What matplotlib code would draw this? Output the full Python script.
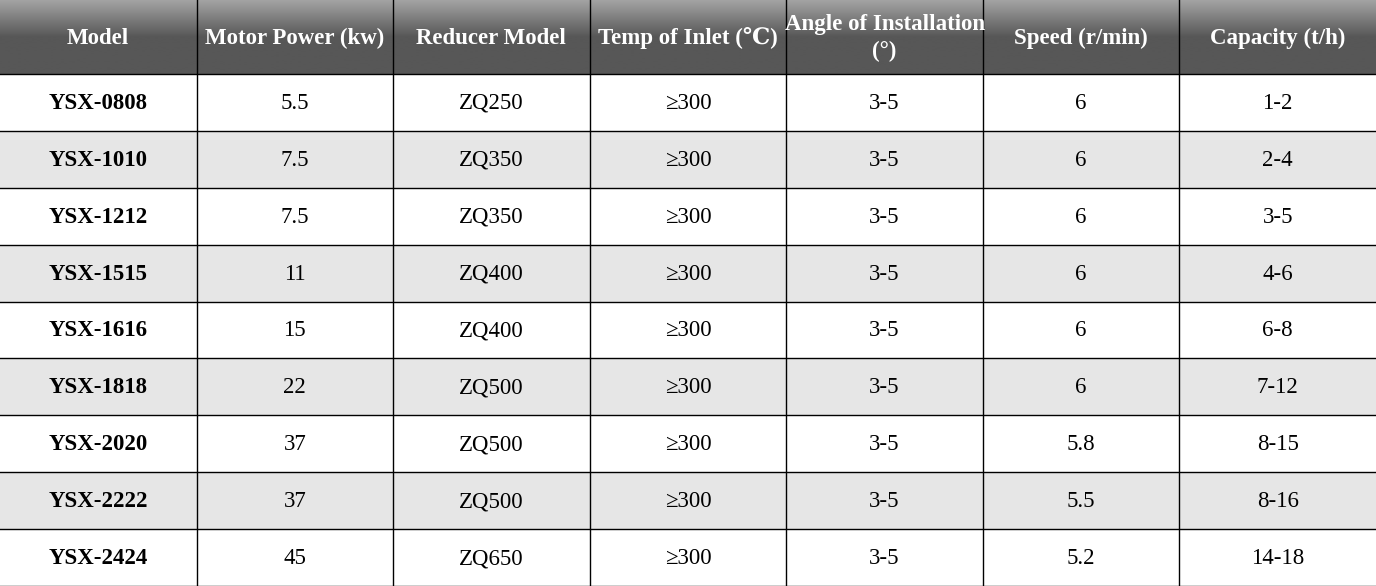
import matplotlib
matplotlib.use('Agg')
import matplotlib.pyplot as plt
import numpy as np

headers = ['Model', 'Motor Power (kw)', 'Reducer Model', 'Temp of Inlet (℃)',
           'Angle of Installation\n(°)', 'Speed (r/min)', 'Capacity (t/h)']
models = ['YSX-0808', 'YSX-1010', 'YSX-1212', 'YSX-1515', 'YSX-1616',
          'YSX-1818', 'YSX-2020', 'YSX-2222', 'YSX-2424']
motor_power = ['5.5', '7.5', '7.5', '11', '15', '22', '37', '37', '45']
reducer = ['ZQ250', 'ZQ350', 'ZQ350', 'ZQ400', 'ZQ400', 'ZQ500', 'ZQ500', 'ZQ500', 'ZQ650']
temp_inlet = ['≥300'] * 9
angle = ['3-5'] * 9
speed = ['6', '6', '6', '6', '6', '6', '5.8', '5.5', '5.2']
capacity = ['1-2', '2-4', '3-5', '4-6', '6-8', '7-12', '8-15', '8-16', '14-18']

columns = [models, motor_power, reducer, temp_inlet, angle, speed, capacity]

W, H = 1376, 586
head_h = 74
n_rows = len(models)
row_h = (H - head_h) / n_rows
col_w = W / len(headers)

plt.rcParams['font.family'] = ['Liberation Serif', 'DejaVu Serif']
fig = plt.figure(figsize=(W / 100, H / 100), dpi=100)
ax = fig.add_axes([0, 0, 1, 1])
ax.set_xlim(0, W)
ax.set_ylim(H, 0)
ax.axis('off')

# header gradient: light grey at top to dark grey at middle
t = np.linspace(0, 1, 100)
shade = np.where(t < 0.5, 0.64 - (0.64 - 0.34) * (t / 0.5), 0.34)
grad = np.repeat(shade[:, None], 2, axis=1)
ax.imshow(grad, cmap='gray', vmin=0, vmax=1, extent=[0, W, head_h, 0],
          aspect='auto', interpolation='bilinear', zorder=0)

for i in range(n_rows):
    y0 = head_h + i * row_h
    color = '#e6e6e6' if i % 2 == 1 else 'white'
    ax.add_patch(plt.Rectangle((0, y0), W, row_h, facecolor=color, edgecolor='none', zorder=0))

# grid lines
for j in range(1, len(headers)):
    ax.plot([j * col_w, j * col_w], [0, H], color='black', lw=1, zorder=2)
for i in range(n_rows + 1):
    y = head_h + i * row_h
    ax.plot([0, W], [y, y], color='black', lw=1, zorder=2)

for j, h in enumerate(headers):
    ax.text((j + 0.5) * col_w, head_h / 2 + 1, h, ha='center', va='center',
            color='white', fontsize=16.5, fontweight='bold', linespacing=1.35, zorder=3)

for j, col in enumerate(columns):
    for i, v in enumerate(col):
        ax.text((j + 0.5) * col_w, head_h + (i + 0.5) * row_h + 1, v, ha='center', va='center',
                color='black', fontsize=16.5, fontweight='bold' if j == 0 else 'normal', zorder=3)

fig.savefig('out.png', dpi=100)
